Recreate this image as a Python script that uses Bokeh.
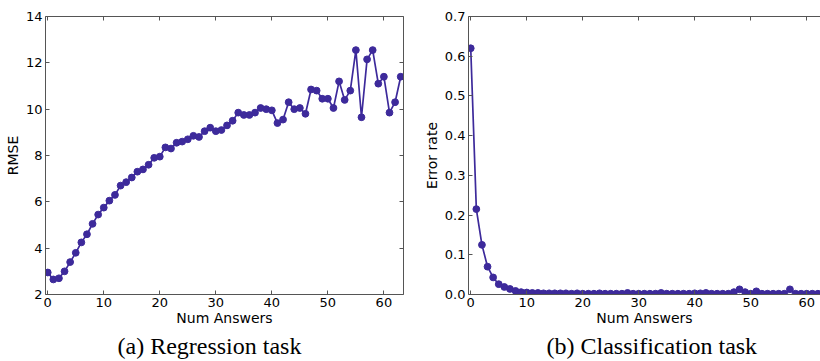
from bokeh.plotting import figure
from bokeh.layouts import row
from bokeh.models import FixedTicker, LinearAxis, Title, Range1d, NumeralTickFormatter
from bokeh.embed import file_html
from bokeh.resources import INLINE

# ---- data ----
num_answers = list(range(64))
rmse = [2.95, 2.65, 2.7, 3.0, 3.4, 3.8, 4.25, 4.6, 5.05, 5.45,
        5.75, 6.05, 6.3, 6.7, 6.85, 7.05, 7.3, 7.4, 7.6, 7.9,
        7.95, 8.35, 8.3, 8.55, 8.6, 8.7, 8.85, 8.8, 9.05, 9.2,
        9.05, 9.1, 9.3, 9.5, 9.85, 9.75, 9.75, 9.85, 10.05, 10.0,
        9.95, 9.4, 9.55, 10.3, 10.0, 10.05, 9.8, 10.85, 10.8, 10.45,
        10.45, 10.05, 11.2, 10.4, 10.8, 12.55, 9.65, 12.15, 12.55, 11.1,
        11.4, 9.85, 10.3, 11.4]
error_rate = [0.62, 0.215, 0.125, 0.07, 0.043, 0.026, 0.019, 0.014, 0.009, 0.006,
              0.005, 0.004, 0.004, 0.003, 0.003, 0.003, 0.003, 0.003, 0.002, 0.003,
              0.002, 0.002, 0.002, 0.003, 0.002, 0.002, 0.002, 0.002, 0.004, 0.002,
              0.002, 0.002, 0.002, 0.002, 0.004, 0.002, 0.002, 0.002, 0.002, 0.002,
              0.003, 0.003, 0.004, 0.002, 0.002, 0.002, 0.002, 0.006, 0.013, 0.006,
              0.002, 0.008, 0.002, 0.002, 0.002, 0.002, 0.002, 0.013, 0.002, 0.002,
              0.002, 0.002, 0.002, 0.002]
x_ticks = [0, 10, 20, 30, 40, 50, 60]
rmse_ticks = [2, 4, 6, 8, 10, 12, 14]
err_ticks = [0.0, 0.1, 0.2, 0.3, 0.4, 0.5, 0.6, 0.7]

LINE = "#3d2a9b"
SPINE = "#555555"
SANS = "DejaVu Sans"
SERIF = "Liberation Serif"


def hidden_axis(ticks):
    ax = LinearAxis(ticker=FixedTicker(ticks=ticks))
    ax.major_tick_in = 4
    ax.major_tick_out = 0
    ax.minor_tick_line_color = None
    ax.major_label_text_font_size = "0px"
    ax.major_label_standoff = 0
    ax.major_label_overrides = {t: "" for t in ticks}
    ax.axis_label_standoff = 0
    ax.axis_line_color = SPINE
    ax.major_tick_line_color = SPINE
    return ax


def panel(y, y_range, y_ticks, ylabel, caption, frame_w, bl, br, x_end,
          cap_offset, yfmt=None, right_spine=True):
    p = figure(frame_width=frame_w, frame_height=278, x_range=Range1d(-0.4, x_end),
               y_range=Range1d(*y_range), output_backend="svg",
               toolbar_location=None, min_border_left=bl, min_border_right=br,
               min_border_top=16, min_border_bottom=67)
    p.grid.visible = False
    p.outline_line_color = None

    xa = p.xaxis[0]
    xa.ticker = FixedTicker(ticks=x_ticks)
    ya = p.yaxis[0]
    ya.ticker = FixedTicker(ticks=y_ticks)
    if yfmt:
        ya.formatter = NumeralTickFormatter(format=yfmt)
    for ax in (xa, ya):
        ax.major_tick_in = 4
        ax.major_tick_out = 0
        ax.minor_tick_line_color = None
        ax.axis_line_color = SPINE
        ax.major_tick_line_color = SPINE
        ax.major_label_text_font = SANS
        ax.major_label_text_font_size = "13px"
        ax.major_label_text_color = "black"
        ax.axis_label_text_font = SANS
        ax.axis_label_text_font_size = "14px"
        ax.axis_label_text_font_style = "normal"
        ax.axis_label_text_color = "black"
    xa.axis_label = "Num Answers"
    xa.major_label_standoff = 3
    xa.axis_label_standoff = 0
    ya.axis_label = ylabel
    ya.major_label_standoff = 3
    ya.axis_label_standoff = 2

    p.add_layout(hidden_axis(x_ticks), "above")
    if right_spine:
        p.add_layout(hidden_axis(y_ticks), "right")

    p.line(num_answers, y, line_color=LINE, line_width=1.7)
    p.scatter(num_answers, y, size=6.8, fill_color=LINE, line_color=LINE)

    p.add_layout(Title(text=caption, align="left", offset=cap_offset,
                       text_font=SERIF, text_font_size="24px",
                       text_font_style="normal", text_color="black",
                       standoff=5), "below")
    return p


p1 = panel(rmse, (2, 14), rmse_ticks, "RMSE", "(a) Regression task",
           358, 45, 17, 63.5, 72)
p2 = panel(error_rate, (0, 0.7), err_ticks, "Error rate",
           "(b) Classification task", 352, 48, 0, 62.46, 78,
           yfmt="0.0", right_spine=False)

layout = row(p1, p2)
open("out.html", "w").write(file_html(layout, INLINE))
